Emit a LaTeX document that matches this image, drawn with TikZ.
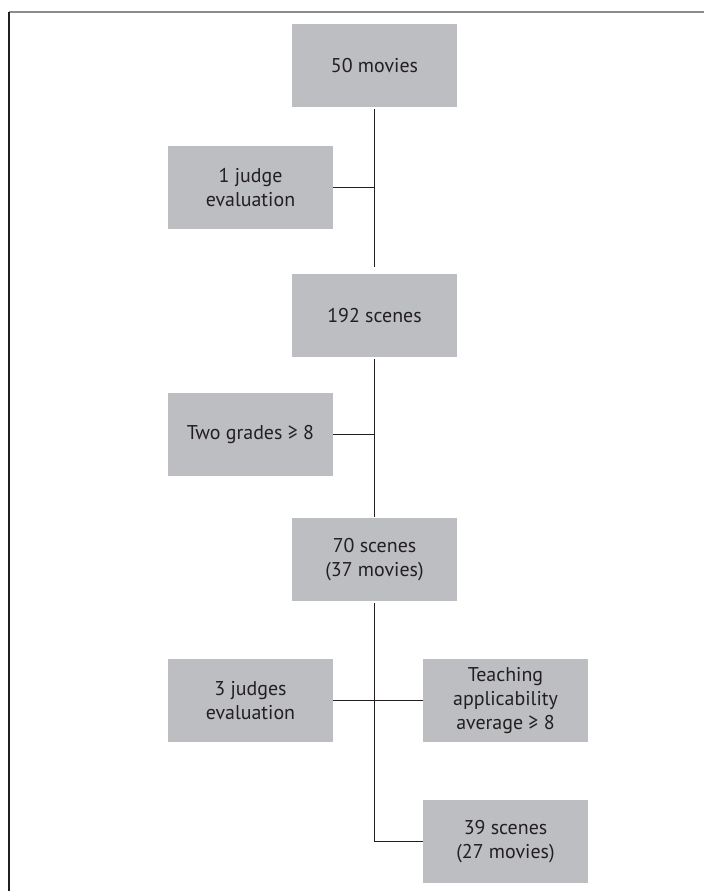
\documentclass[tikz,border=0pt]{standalone}
\usepackage{fontspec}
\setmainfont{PT Sans}
\usetikzlibrary{positioning}

\definecolor{boxgray}{RGB}{189,190,193}
\definecolor{inkdark}{RGB}{35,31,32}
\definecolor{framegray}{RGB}{140,140,140}

\begin{document}
\begin{tikzpicture}[
    x=1bp, y=-1bp,
    stage/.style={rectangle, fill=boxgray, text=inkdark, minimum width=165bp, minimum height=83bp, inner sep=0pt, align=center, font=\fontsize{20}{24.5}\selectfont},
    link/.style={draw=inkdark, line width=1bp}
]
\useasboundingbox (0,0) rectangle (704,891);

% Frame
\draw[framegray, line width=1.2bp] (9,12) -- (704,12);
\draw[inkdark, line width=1.2bp] (9,12) -- (9,891);

% Main column
\node[stage] (movies) at (374.5,65.5) {50 movies};
\node[stage] (scenesa) at (374.5,315.5) {192 scenes};
\node[stage] (scenesb) at (374.5,559.5) {70 scenes\\(37 movies)};

% Filters
\node[stage] (judgeone) at (250.5,187.5) {1 judge\\evaluation};
\node[stage] (grades) at (250.5,434.5) {Two grades ≥ 8};
\node[stage] (judgesthree) at (250.5,700.5) {3 judges\\evaluation};
\node[stage] (teaching) at (505.5,700.5) {Teaching\\applicability\\average ≥ 8};

% Result
\node[stage] (scenesc) at (505.5,841.5) {39 scenes\\(27 movies)};

\draw[link, shorten <=2bp, shorten >=7bp] (movies) -- (scenesa);
\draw[link] (judgeone.east) -- (judgeone.east -| movies.south);
\draw[link, shorten <=2bp, shorten >=1bp] (scenesa) -- (scenesb);
\draw[link] (grades.east) -- (grades.east -| scenesa.south);
\draw[link, shorten <=2bp] (scenesb.south) |- (scenesc.west);
\draw[link] (judgesthree.east) -- (teaching.west);

\end{tikzpicture}
\end{document}
